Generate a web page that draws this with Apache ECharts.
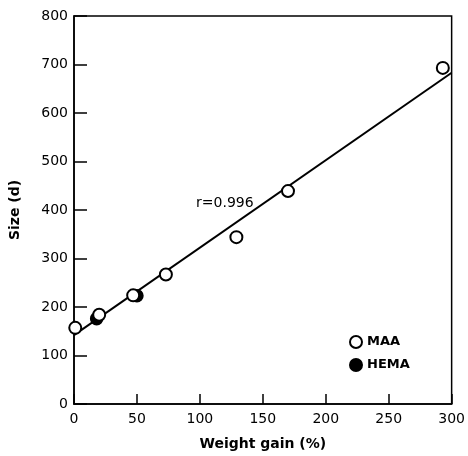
<!DOCTYPE html>
<html><head><meta charset="utf-8">
<script src="https://cdn.jsdelivr.net/npm/echarts@6/dist/echarts.min.js"></script>
<style>html,body{margin:0;padding:0;background:#fff}#c{width:468px;height:456px}</style>
</head><body><div id="c"></div>
<script>
const maaX = [1, 20, 47, 73, 129, 170, 293];
const maaY = [157, 184, 224, 267, 344, 439, 693];
const hemaX = [18, 50];
const hemaY = [176, 223];
const fitX = [0, 300];
const fitY = [142, 683];
const annotation = {x: 97, y: 414, text: 'r=0.996'};
const xTicks = [0, 50, 100, 150, 200, 250, 300];
const yTicks = [0, 100, 200, 300, 400, 500, 600, 700, 800];

const font = 'DejaVu Sans';
const chart = echarts.init(document.getElementById('c'));
chart.setOption({
  animation: false,
  backgroundColor: '#fff',
  grid: {left: 74, right: 14, top: 16, bottom: 52, show: true, borderColor: '#000', borderWidth: 1.5, backgroundColor: 'transparent'},
  xAxis: {
    type: 'value', min: 0, max: 300, interval: 50,
    name: 'Weight gain (%)', nameLocation: 'middle', nameGap: 33,
    nameTextStyle: {color: '#000', fontFamily: font, fontSize: 14, fontWeight: 'bold'},
    axisLine: {show: true, lineStyle: {color: '#000', width: 1.5}},
    axisTick: {show: true, inside: true, length: 10, lineStyle: {color: '#000', width: 1.5}},
    axisLabel: {color: '#000', fontFamily: font, fontSize: 14, margin: 8},
    splitLine: {show: false}
  },
  yAxis: {
    type: 'value', min: 0, max: 800, interval: 100,
    name: 'Size (d)', nameLocation: 'middle', nameGap: 52,
    nameTextStyle: {color: '#000', fontFamily: font, fontSize: 14, fontWeight: 'bold'},
    axisLine: {show: true, lineStyle: {color: '#000', width: 1.5}},
    axisTick: {show: true, inside: true, length: 13, lineStyle: {color: '#000', width: 1.5}},
    axisLabel: {color: '#000', fontFamily: font, fontSize: 14, margin: 6},
    splitLine: {show: false}
  },
  legend: {
    orient: 'vertical', left: 344, top: 330, itemGap: 9, itemWidth: 12, itemHeight: 12,
    textStyle: {color: '#000', fontFamily: font, fontSize: 13, fontWeight: 'bold'},
    data: [{name: 'MAA', icon: 'circle'}, {name: 'HEMA', icon: 'circle'}]
  },
  series: [
    {type: 'line', data: fitX.map((x, i) => [x, fitY[i]]), symbol: 'none', lineStyle: {color: '#000', width: 2}, z: 1, silent: true},
    {name: 'HEMA', type: 'scatter', data: hemaX.map((x, i) => [x, hemaY[i]]), symbol: 'circle', symbolSize: 12,
     itemStyle: {color: '#000', borderColor: '#000', borderWidth: 1.5, opacity: 1}, z: 2},
    {name: 'MAA', type: 'scatter', data: maaX.map((x, i) => [x, maaY[i]]), symbol: 'circle', symbolSize: 12,
     itemStyle: {color: '#fff', borderColor: '#000', borderWidth: 2, opacity: 1}, z: 3},
    {type: 'scatter', data: [[annotation.x, annotation.y]], symbolSize: 0, silent: true, itemStyle: {opacity: 1},
     label: {show: true, position: 'right', distance: 0, formatter: annotation.text, color: '#000', fontFamily: font, fontSize: 14}}
  ]
});
</script></body></html>
